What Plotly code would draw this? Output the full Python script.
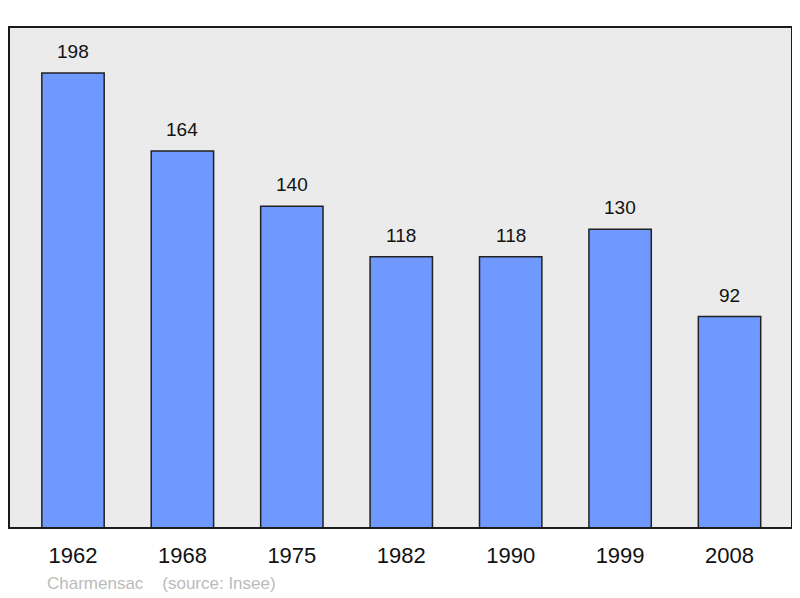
import plotly.graph_objects as go

years = ["1962", "1968", "1975", "1982", "1990", "1999", "2008"]
population = [198, 164, 140, 118, 118, 130, 92]
source_text = "Charmensac    (source: Insee)"

fig = go.Figure()
fig.add_trace(go.Bar(
    x=years, y=population, width=0.57,
    marker=dict(color="#7099ff", line=dict(color="#222222", width=1.5)),
    hoverinfo="skip",
))
for i, v in enumerate(population):
    fig.add_annotation(x=i, y=v, xref="x", yref="y", text=str(v), showarrow=False,
                       yanchor="bottom", yshift=9, font=dict(size=19, color="#111111"))

fig.add_annotation(x=0.046, y=-0.11, xref="paper", yref="paper", xanchor="left",
                   yanchor="middle", text=source_text.replace("    ", "&nbsp;&nbsp;&nbsp;&nbsp;"),
                   showarrow=False, font=dict(size=17, color="#bbbbbb"))

fig.add_shape(type="rect", xref="paper", yref="paper", x0=0, x1=1, y0=0, y1=1,
              line=dict(color="#1a1a1a", width=2), fillcolor="rgba(0,0,0,0)", layer="above")

fig.update_layout(
    width=792, height=590,
    margin=dict(l=1, r=8, t=19, b=70),
    plot_bgcolor="#ebebeb", paper_bgcolor="#ffffff",
    font=dict(family="Liberation Sans, Arial, sans-serif"),
    showlegend=False,
    xaxis=dict(type="category", range=[-0.585, 6.571], showgrid=False, zeroline=False, ticks="",
               tickfont=dict(size=22, color="#111111"), ticklabelstandoff=12),
    yaxis=dict(range=[0, 218], showgrid=False, zeroline=False, showticklabels=False, ticks=""),
)
fig.write_html("out.html")
